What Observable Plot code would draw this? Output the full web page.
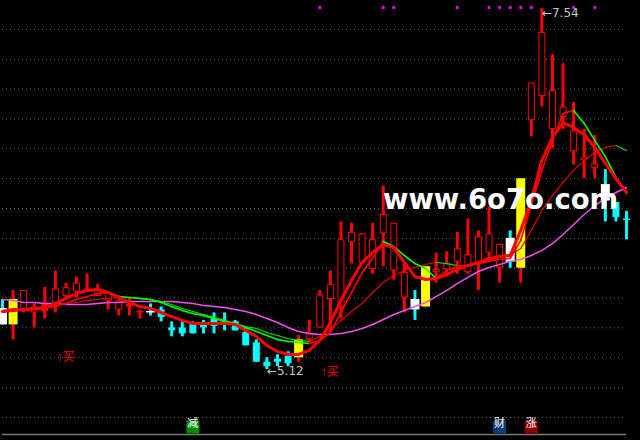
<!DOCTYPE html>
<html><head><meta charset="utf-8">
<script src="https://cdn.jsdelivr.net/npm/d3@7"></script>
<script src="https://cdn.jsdelivr.net/npm/@observablehq/plot@0.6"></script>
<style>
html,body{margin:0;padding:0;background:#000;}
#chart{position:relative;width:640px;height:440px;overflow:hidden;background:#000;}
#wm{position:absolute;left:383px;top:186px;font-family:"DejaVu Sans";font-weight:bold;font-size:27.5px;color:#fff;line-height:1;white-space:nowrap;}
</style></head><body><div id="chart"></div>
<script>
// candle types: R red hollow, F red filled, C cyan, W white body, Y yellow body
const types = ["W","Y","R","R","F","R","R","R","R","R","R","R","F","F","W","C","C","C","C","C","C","C","C","C","C","C","C","C","Y","R","R","R","R","R","R","R","R","R","R","W","Y","R","R","R","R","R","R","R","W","Y","R","R","R","R","R","R","R","W","C","C"];
const opens  = [5.53,5.59,5.52,5.50,5.56,5.56,5.61,5.64,5.64,5.61,5.58,5.52,5.56,5.51,5.51,5.52,5.40,5.40,5.43,5.42,5.46,5.44,5.44,5.37,5.30,5.17,5.19,5.21,5.20,5.32,5.40,5.59,5.54,5.97,5.83,5.79,6.03,5.78,5.60,5.59,5.81,5.77,5.79,5.84,5.77,5.83,5.90,5.80,6.00,5.80,6.79,6.95,6.73,6.81,6.58,6.52,6.47,6.36,6.24,6.13];
const closes = [5.42,5.42,5.65,5.54,5.51,5.66,5.67,5.70,5.66,5.66,5.63,5.58,5.54,5.50,5.50,5.47,5.38,5.36,5.36,5.40,5.41,5.42,5.38,5.28,5.17,5.14,5.17,5.16,5.32,5.36,5.62,5.69,5.99,6.04,6.03,5.99,6.16,6.10,5.77,5.52,5.54,5.79,5.83,5.93,5.89,6.01,6.03,5.96,5.84,6.40,7.04,7.38,6.99,6.88,6.72,6.54,6.50,6.25,6.14,6.12];
const highs  = [5.59,5.65,5.65,5.56,5.67,5.78,5.70,5.74,5.76,5.69,5.63,5.60,5.60,5.52,5.56,5.54,5.44,5.44,5.44,5.45,5.50,5.50,5.45,5.40,5.32,5.20,5.22,5.24,5.35,5.45,5.65,5.78,6.11,6.10,6.03,6.10,6.35,6.10,5.83,5.65,5.81,5.90,5.91,6.04,6.13,6.05,6.21,5.96,6.05,6.40,7.04,7.54,7.23,7.17,6.91,6.73,6.69,6.46,6.24,6.18];
const lows   = [5.42,5.32,5.50,5.40,5.46,5.50,5.59,5.60,5.64,5.61,5.52,5.48,5.48,5.46,5.48,5.44,5.34,5.34,5.36,5.36,5.36,5.38,5.38,5.28,5.17,5.12,5.14,5.14,5.17,5.30,5.40,5.38,5.46,5.83,5.83,5.76,5.81,5.72,5.50,5.45,5.54,5.70,5.74,5.76,5.76,5.65,5.85,5.70,5.80,5.70,6.68,6.88,6.60,6.73,6.49,6.40,6.40,6.11,6.11,5.99];
// moving averages
const ma5  = [5.510,5.523,5.523,5.530,5.537,5.563,5.597,5.630,5.651,5.657,5.637,5.604,5.570,5.543,5.530,5.503,5.476,5.450,5.429,5.429,5.429,5.429,5.423,5.383,5.342,5.282,5.242,5.222,5.222,5.249,5.316,5.436,5.584,5.718,5.838,5.905,5.959,5.939,5.838,5.744,5.724,5.731,5.758,5.791,5.818,5.838,5.865,5.878,5.885,6.053,6.254,6.522,6.676,6.776,6.743,6.696,6.609,6.502,6.401,6.307];
const ma10 = [5.517,5.517,5.523,5.523,5.530,5.543,5.563,5.590,5.610,5.630,5.637,5.610,5.604,5.597,5.590,5.570,5.543,5.517,5.496,5.483,5.463,5.443,5.423,5.403,5.376,5.349,5.322,5.309,5.302,5.295,5.316,5.369,5.503,5.637,5.771,5.865,5.979,5.945,5.885,5.831,5.798,5.731,5.785,5.811,5.818,5.831,5.845,5.858,5.865,5.986,6.220,6.455,6.656,6.836,6.857,6.770,6.656,6.548,6.408,6.300];
const ma20 = [5.503,5.510,5.517,5.523,5.530,5.550,5.563,5.570,5.584,5.590,5.597,5.604,5.604,5.597,5.590,5.577,5.557,5.530,5.510,5.490,5.470,5.450,5.429,5.409,5.396,5.369,5.349,5.329,5.316,5.309,5.342,5.383,5.450,5.510,5.563,5.637,5.704,5.751,5.785,5.805,5.825,5.838,5.831,5.818,5.818,5.831,5.852,5.872,5.892,5.932,6.053,6.187,6.287,6.374,6.455,6.522,6.575,6.609,6.622,6.589];
const ma60 = [5.590,5.584,5.570,5.570,5.563,5.563,5.557,5.557,5.557,5.563,5.570,5.570,5.577,5.577,5.577,5.577,5.577,5.570,5.563,5.550,5.543,5.537,5.523,5.510,5.490,5.463,5.436,5.403,5.376,5.362,5.356,5.356,5.362,5.376,5.396,5.423,5.456,5.490,5.517,5.543,5.570,5.610,5.651,5.697,5.738,5.778,5.805,5.825,5.845,5.858,5.885,5.919,5.965,6.026,6.093,6.160,6.220,6.267,6.307,6.341];
const signalIdx = [30,36,37,43,46,47,48,49,50,54,56];
const buyIdx = [5,30];
const tagIdx = [18,47,50];
const tagText = ["减","财","涨"];
const tagColor = ["#008a00","#0b3d78","#8c0000"];
const gridLevels = [4.8,5.0,5.2,5.4,5.6,5.8,6.0,6.2,6.4,6.6,6.8,7.0,7.2,7.4];
const yDomain = [4.6857, 7.5936];
const highIdx = 51, lowIdx = 25;

const candles = opens.map((o,i)=>({i,o,c:closes[i],h:highs[i],l:lows[i],t:types[i],top:Math.max(o,closes[i]),bot:Math.min(o,closes[i])}));
const bodyColor = {R:"#ff0000",F:"#ff0000",C:"#00ffff",W:"#ffffff",Y:"#ffff00"};
const wickColor = {R:"#ff0000",F:"#ff0000",C:"#00ffff",W:"#00ffff",Y:"#ff0000"};
const segs = (arr, up, down) => arr.slice(0,-1).map((v,i)=>({x1:i,y1:v,x2:i+1,y2:arr[i+1],c:arr[i+1]<v?down:up}));
const tags = tagIdx.map((i,k)=>({i,t:tagText[k],c:tagColor[k]}));
const buys = buyIdx.map(i=>({i,l:lows[i]}));
const n = opens.length;

const chart = Plot.plot({
  width:640, height:440, marginLeft:2, marginRight:14, marginTop:0, marginBottom:6,
  style:{background:"#000", overflow:"visible"},
  x:{domain:[0,n-1], axis:null},
  y:{domain:yDomain, axis:null},
  color:{type:"identity"},
  marks:[
    Plot.ruleY(gridLevels,{stroke:"#666",strokeDasharray:"1 3"}),
    Plot.ruleY([yDomain[0]],{stroke:"#7a7a7a",strokeWidth:1.5}),
    Plot.ruleX(candles,{x:"i",y1:"h",y2:"l",stroke:d=>wickColor[d.t],strokeWidth:3}),
    Plot.ruleX(candles.filter(d=>"RFC".includes(d.t)),{x:"i",y1:"top",y2:"bot",stroke:d=>bodyColor[d.t],strokeWidth:7}),
    Plot.ruleX(candles.filter(d=>"WY".includes(d.t)),{x:"i",y1:"top",y2:"bot",stroke:d=>bodyColor[d.t],strokeWidth:9}),
    Plot.ruleX(candles.filter(d=>d.t==="R"),{x:"i",y1:"top",y2:"bot",stroke:"#000",strokeWidth:5,insetTop:1,insetBottom:1}),
    Plot.line(ma60,{x:(d,i)=>i,y:d=>d,stroke:"#f050f0",strokeWidth:1.5}),
    Plot.link(segs(ma20,"#e00000","#00e000"),{x1:"x1",y1:"y1",x2:"x2",y2:"y2",stroke:"c",strokeWidth:1.2,strokeLinecap:"round"}),
    Plot.link(segs(ma10,"#ff0000","#00ff00"),{x1:"x1",y1:"y1",x2:"x2",y2:"y2",stroke:"c",strokeWidth:1.6,strokeLinecap:"round"}),
    Plot.line(ma5,{x:(d,i)=>i,y:d=>d,stroke:"#ff0000",strokeWidth:3}),
    Plot.dot(signalIdx,{x:d=>d,frameAnchor:"top",dy:7,symbol:"square",r:1.6,fill:"#ff00ff"}),
    Plot.text([highIdx],{x:d=>d,y:d=>highs[d],text:d=>"←"+highs[d].toFixed(2),textAnchor:"start",dy:5,fill:"#c8c8c8",fontSize:12,fontFamily:"DejaVu Sans"}),
    Plot.text([lowIdx],{x:d=>d,y:d=>lows[d],text:d=>"←"+lows[d].toFixed(2),textAnchor:"start",dy:1,fill:"#c8c8c8",fontSize:12,fontFamily:"DejaVu Sans"}),
    Plot.text(buys,{x:"i",y:"l",text:()=>"↑买",textAnchor:"start",dx:1,dy:44,fill:"#ff0000",fontSize:12,fontFamily:"Liberation Sans, Noto Sans CJK SC"}),
    Plot.dot(tags,{x:"i",frameAnchor:"bottom",dy:-7.5,symbol:"square",r:7.3,fill:"c"}),
    Plot.text(tags,{x:"i",frameAnchor:"bottom",dy:-7.5,text:"t",fill:"#fff",fontSize:11,fontFamily:"Noto Sans CJK SC"})
  ]
});
const root = document.getElementById("chart");
root.appendChild(chart);
const wm = document.createElement("div");
wm.id = "wm"; wm.textContent = "www.6o7o.com";
root.appendChild(wm);
</script></body></html>
